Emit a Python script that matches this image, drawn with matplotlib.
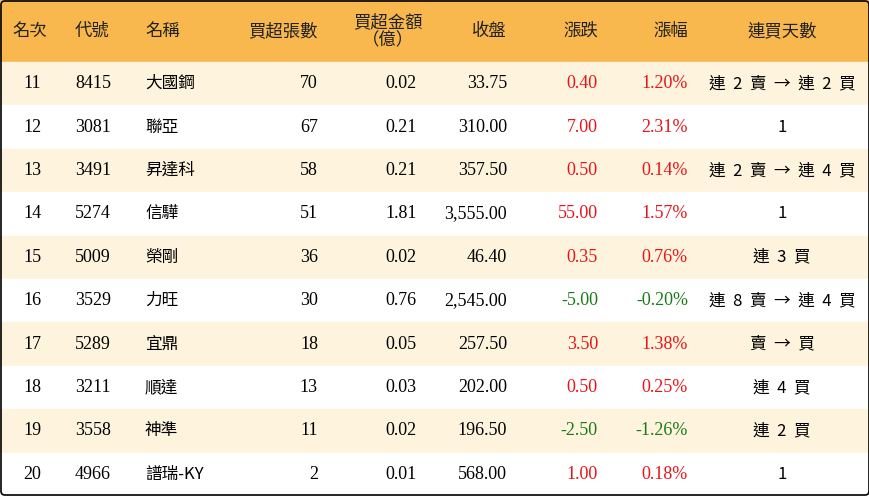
import matplotlib.pyplot as plt
from matplotlib.patches import Rectangle, FancyBboxPatch

rank = [11, 12, 13, 14, 15, 16, 17, 18, 19, 20]
code = ["8415", "3081", "3491", "5274", "5009", "3529", "5289", "3211", "3558", "4966"]
name = ["大國鋼", "聯亞", "昇達科", "信驊", "榮剛", "力旺", "宜鼎", "順達", "神準", "譜瑞-KY"]
lots = [70, 67, 58, 51, 36, 30, 18, 13, 11, 2]
amount = [0.02, 0.21, 0.21, 1.81, 0.02, 0.76, 0.05, 0.03, 0.02, 0.01]
close = [33.75, 310.00, 357.50, 3555.00, 46.40, 2545.00, 257.50, 202.00, 196.50, 568.00]
change = [0.40, 7.00, 0.50, 55.00, 0.35, -5.00, 3.50, 0.50, -2.50, 1.00]
pct = [1.20, 2.31, 0.14, 1.57, 0.76, -0.20, 1.38, 0.25, -1.26, 0.18]
streak = ["連 2 賣 → 連 2 買", "1", "連 2 賣 → 連 4 買", "1", "連 3 買",
          "連 8 賣 → 連 4 買", "賣 → 買", "連 4 買", "連 2 買", "1"]

W, H = 870, 496
head_h = 62
row_h = (H - head_h) / len(rank)

cjk = "Noto Sans CJK TC"
serif = "Liberation Serif"
red, green = "#e8141b", "#1a7a1a"

fig = plt.figure(figsize=(8.7, 4.96), dpi=100)
ax = fig.add_axes([0, 0, 1, 1])
ax.set_xlim(0, W)
ax.set_ylim(H, 0)
ax.axis("off")

ax.add_patch(Rectangle((0, 0), W, head_h, color="#f8b84e", zorder=0))
for i in range(len(rank)):
    y0 = head_h + i * row_h
    fc = "#fef3dc" if i % 2 == 0 else "white"
    ax.add_patch(Rectangle((0, y0), W, row_h, color=fc, zorder=0))
ax.add_patch(FancyBboxPatch((1, 1), W - 2, H - 2, boxstyle="round,pad=0,rounding_size=4",
                            fill=False, ec="black", lw=1.2, zorder=3))

hy = head_h / 2
hk = dict(fontfamily=cjk, fontsize=12.5, fontweight="medium", color="#222222", va="center")
ax.text(12, hy, "名次", ha="left", **hk)
ax.text(75, hy, "代號", ha="left", **hk)
ax.text(145, hy, "名稱", ha="left", **hk)
ax.text(318, hy, "買超張數", ha="right", **hk)
ax.text(388, hy, "買超金額\n（億）", ha="center", linespacing=1.0, **hk)
ax.text(507, hy, "收盤", ha="right", **hk)
ax.text(598, hy, "漲跌", ha="right", **hk)
ax.text(688, hy, "漲幅", ha="right", **hk)
ax.text(782, hy, "連買天數", ha="center", **hk)

nk = dict(fontfamily=serif, fontsize=13, va="center")
ck = dict(fontfamily=cjk, fontsize=12, va="center")
for i in range(len(rank)):
    y = head_h + (i + 0.5) * row_h
    c = red if change[i] > 0 else green
    ax.text(32, y, str(rank[i]), ha="center", **nk)
    ax.text(75, y, code[i], ha="left", **nk)
    ax.text(145, y, name[i], ha="left", **ck)
    ax.text(318, y, str(lots[i]), ha="right", **nk)
    ax.text(417, y, f"{amount[i]:.2f}", ha="right", **nk)
    ax.text(507, y, f"{close[i]:,.2f}", ha="right", **nk)
    ax.text(598, y, f"{change[i]:.2f}", ha="right", color=c, **nk)
    ax.text(688, y, f"{pct[i]:.2f}%", ha="right", color=c, **nk)
    ax.text(782, y, streak[i].replace(" ", "  "), ha="center", **ck)

fig.savefig("out.png", dpi=100)
